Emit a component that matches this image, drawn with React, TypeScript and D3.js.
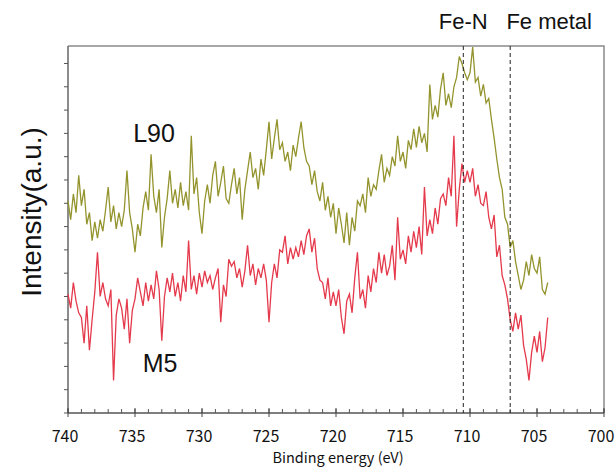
import React from "react";
import * as d3 from "d3";

// binding energy grid (eV), 0.2 eV step from 740 down to 704.2
const energies = d3.range(180).map((i) => +(740 - i * 0.2).toFixed(1));

// intensities (a.u., one y tick = 1)
const l90 = [
  9.1, 8.3, 9.4, 8.6, 10.2, 8.9, 9.6, 8.1, 8.6, 7.4,
  8.2, 7.5, 8.3, 7.8, 8.7, 9.7, 8.2, 8.9, 7.9, 8.6,
  8.0, 8.7, 10.4, 8.6, 7.9, 6.9, 8.1, 7.6, 8.8, 9.5,
  8.7, 11.1, 9.3, 8.6, 9.6, 7.1, 8.4, 9.2, 10.4, 9.0,
  9.6, 8.8, 9.9, 8.9, 9.5, 8.7, 11.9, 9.4, 10.1, 8.6,
  7.7, 9.1, 9.8, 9.0, 10.2, 10.8, 9.3, 9.9, 10.6, 9.2,
  9.0, 9.8, 10.5, 9.4, 10.1, 8.3, 9.6, 10.4, 11.2, 10.1,
  10.5, 9.6, 10.9, 10.2, 11.3, 12.5, 10.9, 11.8, 12.6, 11.3,
  11.6, 10.8, 11.2, 10.4, 11.5, 11.0, 11.8, 12.5, 11.4, 10.8,
  10.6, 9.8, 10.4, 9.5, 9.1, 9.9, 8.7, 9.3, 8.4, 9.0,
  7.7, 8.8, 8.1, 7.3, 8.6, 7.2, 8.4, 7.8, 9.1, 8.9,
  9.4, 8.6, 10.1, 9.3, 9.8, 9.6, 10.4, 11.1, 9.9, 10.5,
  10.2, 11.0, 10.6, 11.9, 10.8, 11.2, 10.5, 11.7, 11.3, 12.2,
  11.4, 12.3, 11.6, 12.0, 11.2, 14.1, 12.6, 13.2, 12.7, 13.9,
  14.6, 13.2, 13.7, 13.1, 14.0, 14.4, 15.3, 15.0, 14.6, 14.3,
  14.6, 15.7, 14.2, 14.4, 13.6, 14.1, 13.3, 13.5, 12.6, 11.8,
  10.9, 10.1, 9.6, 8.4, 8.1, 7.1, 7.4, 6.5, 5.9, 5.3,
  5.7, 6.5, 5.9, 6.8, 6.2, 6.0, 6.7, 5.3, 5.1, 5.6,
];

const m5 = [
  5.1, 4.5, 5.6, 4.8, 4.3, 4.1, 3.0, 4.6, 2.7, 4.0,
  5.2, 6.9, 5.0, 5.6, 4.9, 4.6, 5.3, 1.4, 4.2, 4.9,
  4.5, 3.6, 4.9, 3.0, 4.4, 4.9, 5.8, 5.2, 4.6, 5.6,
  4.8, 5.5, 4.9, 6.1, 5.3, 3.1, 5.0, 5.8, 5.2, 6.0,
  5.0, 5.6, 4.8, 5.9, 5.2, 7.4, 5.3, 5.9, 5.1, 6.0,
  5.4, 6.1, 5.6, 5.9, 5.3, 5.8, 6.2, 3.9, 5.5, 5.0,
  6.6, 6.3, 6.5, 5.8, 6.2, 5.4, 6.1, 7.2, 5.9, 6.4,
  5.5, 6.2, 5.8, 6.4, 5.7, 3.9, 5.6, 6.4, 5.8, 7.0,
  6.9, 7.6, 6.4, 7.1, 6.6, 7.1, 6.7, 7.4, 6.8, 7.6,
  7.9, 6.9, 7.5, 6.2, 5.7, 5.6, 4.9, 5.8, 4.6, 5.2,
  4.6, 5.3, 4.1, 3.4, 4.8, 5.1, 4.3, 5.8, 6.9, 4.9,
  5.3, 4.5, 5.9, 5.2, 6.2, 5.6, 6.9, 6.0, 6.8, 5.9,
  6.3, 7.2, 5.7, 8.4, 6.6, 7.0, 6.4, 7.6, 6.9, 7.8,
  7.1, 8.0, 6.8, 9.7, 7.6, 8.3, 7.7, 8.8, 8.1, 9.2,
  9.4, 8.9, 10.1, 9.3, 11.9, 8.0, 9.6, 10.7, 9.9, 10.4,
  9.9, 10.5, 9.3, 9.8, 9.0, 8.9, 9.5, 8.4, 7.9, 8.5,
  6.7, 7.2, 5.9, 5.5, 4.9, 4.0, 3.5, 4.3, 3.6, 4.2,
  2.9, 2.3, 1.4, 2.6, 3.3, 2.6, 3.5, 2.2, 2.8, 4.1,
];

const xTicks = [740, 735, 730, 725, 720, 715, 710, 705, 700];
const minorTicks = d3.range(740, 699, -1);
const yTicks = d3.range(0, 16);
const markers = [
  { e: 710.5, label: "Fe-N", dx: 0 },
  { e: 707, label: "Fe metal", dx: 39 },
];

const W = 616;
const H = 468;
const sans = "'Liberation Sans', Arial, sans-serif";
const gothic = "'Noto Sans CJK JP', 'Liberation Sans', sans-serif";

export default function App() {
  const x = d3.scaleLinear().domain([740, 700]).range([68, 604]);
  const y = d3.scaleLinear().domain([0, 15.75]).range([413, 46]);
  const [y0, y1] = y.range();

  const line = d3
    .line<number>()
    .x((_, i) => x(energies[i]))
    .y((d) => y(d));

  return (
    <svg
      width={W}
      height={H}
      style={{ position: "absolute", left: 0, top: 0, background: "#fff" }}
    >
      {/* frame */}
      <path
        d={`M${x(740)},${y1}H${x(700)}V${y0}`}
        fill="none"
        stroke="#8a8a8a"
        strokeWidth={1.5}
      />
      <line x1={x(740)} x2={x(740)} y1={y1} y2={y0} stroke="#666" strokeWidth={1.5} />
      <line x1={x(740)} x2={x(700)} y1={y0} y2={y0} stroke="#555" strokeWidth={1.5} />

      {/* y ticks */}
      {yTicks.map((t) => (
        <line key={t} x1={x(740) - 4} x2={x(740)} y1={y(t)} y2={y(t)} stroke="#555" />
      ))}

      {/* x ticks */}
      {minorTicks.map((t) => (
        <line key={t} x1={x(t)} x2={x(t)} y1={y0 - 4} y2={y0} stroke="#555" />
      ))}
      {xTicks.map((t) => (
        <g key={t}>
          <line x1={x(t)} x2={x(t)} y1={y0 - 5} y2={y0 + 4} stroke="#444" />
          <text
            x={x(t) - 3}
            y={442}
            textAnchor="middle"
            fontFamily={gothic}
            fontSize={16}
            fill="#111"
          >
            {t}
          </text>
        </g>
      ))}

      {/* spectra */}
      <path d={line(m5) ?? ""} fill="none" stroke="#e43a4c" strokeWidth={1.3} />
      <path d={line(l90) ?? ""} fill="none" stroke="#94942e" strokeWidth={1.3} />

      {/* reference positions */}
      {markers.map((m) => (
        <g key={m.label}>
          <line
            x1={x(m.e)}
            x2={x(m.e)}
            y1={y1}
            y2={y0}
            stroke="#222"
            strokeWidth={1}
            strokeDasharray="4,3"
          />
          <text
            x={x(m.e) + m.dx}
            y={29}
            textAnchor="middle"
            fontFamily={sans}
            fontSize={22}
            fill="#111"
          >
            {m.label}
          </text>
        </g>
      ))}

      {/* series labels */}
      <text x={154} y={142} textAnchor="middle" fontFamily={sans} fontSize={25} fill="#111">
        L90
      </text>
      <text x={160} y={372} textAnchor="middle" fontFamily={sans} fontSize={25} fill="#111">
        M5
      </text>

      {/* axis titles */}
      <text
        transform="translate(41,212) rotate(-90)"
        textAnchor="middle"
        fontFamily={sans}
        fontSize={28}
        fill="#111"
      >
        Intensity(a.u.)
      </text>
      <text
        x={338}
        y={463}
        textAnchor="middle"
        fontFamily={gothic}
        fontSize={14.5}
        fill="#111"
      >
        Binding energy (eV)
      </text>
    </svg>
  );
}
